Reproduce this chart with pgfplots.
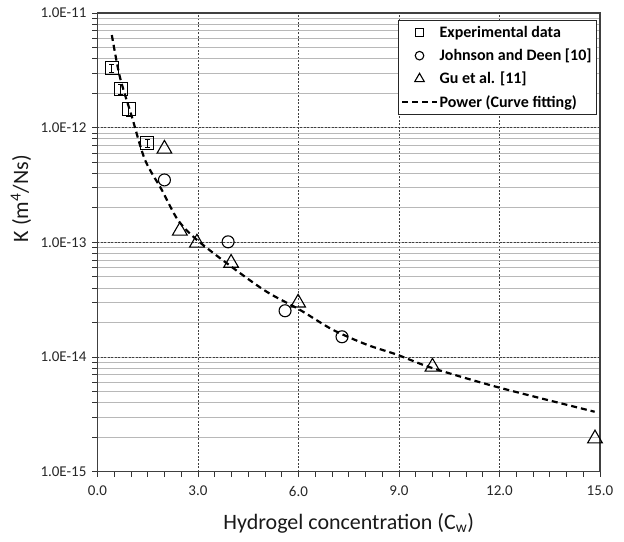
\documentclass[border=0pt]{standalone}
\usepackage{fontspec}
\setmainfont{Carlito}
\usepackage{pgfplots}
\pgfplotsset{compat=1.18}
\pgfplotsset{
  longline/.style={legend image code/.code={\draw[##1] (0cm,0cm) -- (1.2cm,0cm);}},
  markleg/.style={legend image code/.code={\path[draw=none] (0cm,0cm) -- (1.2cm,0cm);
     \draw[##1] plot coordinates {(0.6cm,0cm)};}},
}
\begin{document}
\begin{tikzpicture}
\begin{axis}[
  scale only axis, width=503pt, height=459pt,
  xmin=0, xmax=15, ymode=log, ymin=1e-15, ymax=1e-11,
  xtick={0,3,6,9,12,15}, minor x tick num=5,
  ytick={1e-15,1e-14,1e-13,1e-12,1e-11},
  yticklabels={1.0E-15,1.0E-14,1.0E-13,1.0E-12,1.0E-11},
  /pgf/number format/assume math mode=true,
  tick label style={font=\fontsize{15}{17}\selectfont, color=black!85},
  xticklabel style={yshift=-6pt, /pgf/number format/.cd, fixed, fixed zerofill, precision=1},
  yticklabel style={xshift=-2.5pt},
  xmajorgrids, ymajorgrids, yminorgrids,
  major grid style={dash pattern=on 2pt off 1.5pt, color=black!75, line width=0.8pt},
  minor grid style={color=black!28, line width=0.7pt},
  tick align=outside, major tick length=5pt, minor tick length=5pt,
  tick style={black!80, line width=0.8pt},
  xtick pos=bottom, ytick pos=left,
  axis line style={black!75, line width=1.3pt},
  xlabel={Hydrogel concentration (C\textsubscript{w})},
  ylabel={K (m\textsuperscript{4}/Ns)},
  label style={font=\fontsize{22}{25}\selectfont, color=black!90},
  xlabel style={at={(axis description cs:0.5,-0.1135)}, anchor=center},
  ylabel style={at={(axis description cs:-0.152,0.595)}, anchor=center},
  legend style={at={(axis description cs:0.994,0.985)}, anchor=north east,
    draw=black!85, line width=1pt, fill=white,
    font=\bfseries\fontsize{16}{18}\selectfont, row sep=6pt,
    inner xsep=3pt, inner ysep=4pt},
  legend cell align=left,
]
\addplot[only marks, mark=square, mark size=6.5pt, black, line width=1.1pt,
  markleg, legend image post style={mark size=4.2pt},
  error bars/.cd, y dir=both, y explicit relative,
  error mark options={rotate=90, mark size=2.5pt, line width=0.9pt},
  error bar style={line width=0.9pt}]
  coordinates {
  (0.43,3.32e-12) +- (0,0.08)
  (0.70,2.18e-12) +- (0,0.10)
  (0.94,1.46e-12) +- (0,0.14)
  (1.49,7.36e-13) +- (0,0.08)
  };
\addlegendentry{Experimental data}
\addplot[only marks, mark=o, mark size=6pt, black, line width=1.1pt,
  markleg, legend image post style={mark size=4.3pt}]
  coordinates {
  (2.0,3.5e-13) (3.9,1.01e-13) (5.6,2.53e-14) (7.3,1.5e-14)
  };
\addlegendentry{Johnson and Deen [10]}
\addplot[only marks, mark=triangle, mark size=8.5pt, black, line width=1.1pt,
  markleg, legend image post style={mark size=5.5pt}]
  coordinates {
  (2.0,6.53e-13) (2.46,1.26e-13) (2.97,9.9e-14) (3.99,6.6e-14)
  (5.99,2.97e-14) (10.0,8.2e-15) (14.85,1.94e-15)
  };
\addlegendentry{Gu et al. [11]}
\addplot[smooth, black, line width=2.2pt, dash pattern=on 6pt off 4pt, longline]
  coordinates {
  (0.43,6.43e-12) (0.67,2.77e-12) (1.03,1.24e-12) (1.42,5.24e-13)
  (1.92,2.87e-13) (2.40,1.57e-13) (2.97,1.05e-13) (4.04,6.0e-14)
  (5.05,3.71e-14) (6.04,2.58e-14) (7.02,1.73e-14) (8.04,1.28e-14)
  (8.93,1.05e-14) (10.0,8.0e-15) (12.0,5.4e-15) (14.84,3.33e-15)
  };
\addlegendentry{Power (Curve fitting)}
\end{axis}
\pgfresetboundingbox
\path ([shift={(-97.5pt,-70pt)}]current axis.south west) rectangle ([shift={(24pt,13pt)}]current axis.north east);
\end{tikzpicture}
\end{document}
